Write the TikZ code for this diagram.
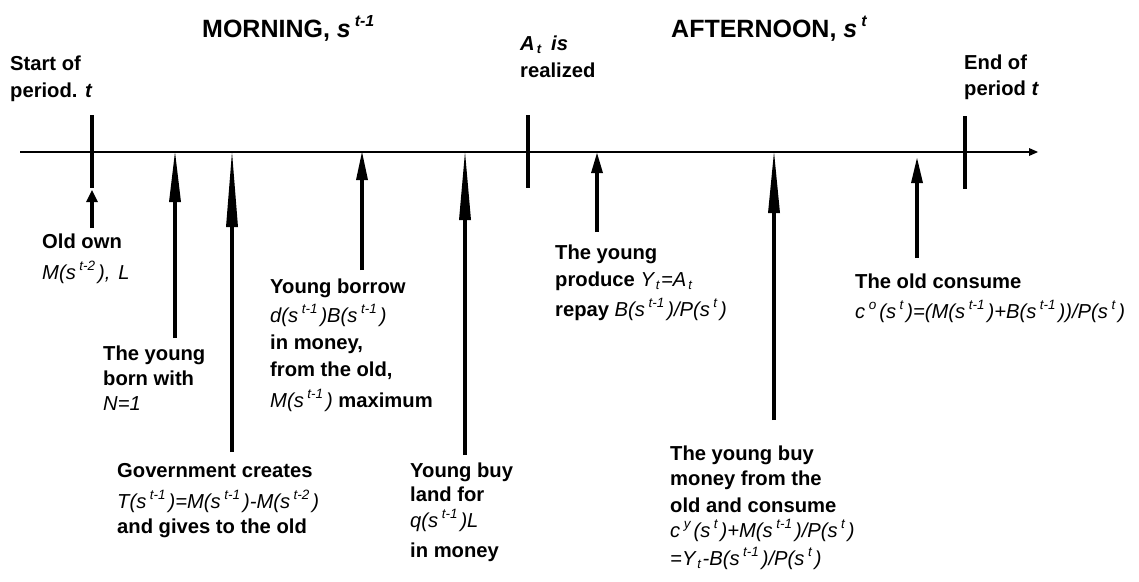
\documentclass[tikz,border=0pt]{standalone}
\usepackage{fontspec}
\setmainfont{Liberation Sans}
\usetikzlibrary{arrows.meta}
\newcommand\upx[1]{\hspace{3.5pt}\raisebox{8.5pt}{\fontsize{13.5}{13.5}\selectfont #1}\hspace{3pt}}
\newcommand\dnx[1]{\hspace{2pt}\raisebox{-3pt}{\fontsize{13}{13}\selectfont #1}\hspace{1.5pt}}
\newcommand\upT[1]{\hspace{4pt}\raisebox{10.5pt}{\fontsize{16}{16}\selectfont #1}}
\newcommand\mth[1]{{\mdseries\itshape #1}}
\tikzset{
  lbl/.style={anchor=base west, inner sep=0pt, font=\fontsize{20.2}{22}\selectfont\bfseries},
  ttl/.style={anchor=base west, inner sep=0pt, font=\fontsize{25}{28}\selectfont\bfseries},
  tickmark/.style={line width=4.5pt},
  timeline/.style={line width=2.2pt, -{Triangle[length=9pt,width=8pt,line width=0pt]}},
  uparrow/.style={line width=4.3pt, -{Triangle[length=#1,width=12pt,line width=0pt]}},
}
\begin{document}
\begin{tikzpicture}[x=1pt,y=-1pt]
\useasboundingbox (0,0) rectangle (1139,581);
% titles
\node[ttl] (mor) at (202,37) {MORNING, \textit{s\upT{t-1}}};
\node[ttl] (aft) at (671,37) {AFTERNOON, \textit{s\upT{t}}};
% top labels
\node[lbl] (st1) at (10,70) {Start of};
\node[lbl] (st2) at (10,97) {period. \textit{t}};
\node[lbl] (at1) at (520,50) {\textit{A\dnx{t}\hspace{3pt} is}};
\node[lbl] (at2) at (520,77) {realized};
\node[lbl] (en1) at (964,69) {End of};
\node[lbl] (en2) at (964,95) {period \textit{t}};
% timeline
\coordinate (ax0) at (20,152);
\coordinate (ax1) at (1038,152);
\draw[timeline] (ax0) -- (ax1);
% ticks
\coordinate (k1a) at (92,115); \coordinate (k1b) at (92,188);
\coordinate (k2a) at (528,115); \coordinate (k2b) at (528,188);
\coordinate (k3a) at (965,116); \coordinate (k3b) at (965,189);
\draw[tickmark] (k1a) -- (k1b);
\draw[tickmark] (k2a) -- (k2b);
\draw[tickmark] (k3a) -- (k3b);
% arrows
\coordinate (b1) at (92,228);  \coordinate (t1) at (92,190);
\coordinate (b2) at (175,338); \coordinate (t2) at (175,152);
\coordinate (b3) at (232,452); \coordinate (t3) at (232,152);
\coordinate (b4) at (362,270); \coordinate (t4) at (362,152);
\coordinate (b5) at (465,455); \coordinate (t5) at (465,152);
\coordinate (b6) at (597,232); \coordinate (t6) at (597,153);
\coordinate (b7) at (774,420); \coordinate (t7) at (774,152);
\coordinate (b8) at (917,258); \coordinate (t8) at (917,158);
\draw[uparrow=12pt] (b1) -- (t1);
\draw[uparrow=50pt] (b2) -- (t2);
\draw[uparrow=75pt] (b3) -- (t3);
\draw[uparrow=28pt] (b4) -- (t4);
\draw[uparrow=68pt] (b5) -- (t5);
\draw[uparrow=20pt] (b6) -- (t6);
\draw[uparrow=61pt] (b7) -- (t7);
\draw[uparrow=25pt] (b8) -- (t8);
% old own
\node[lbl] (oo1) at (42,248) {Old own};
\node[lbl] (oo2) at (42,279) {\mth{M(s\upx{t-2}),\hspace{8pt}L}};
% young born
\node[lbl] (yb1) at (103,360) {The young};
\node[lbl] (yb2) at (103,385) {born with};
\node[lbl] (yb3) at (103,410) {\mth{N=1}};
% government
\node[lbl] (gv1) at (117,477) {Government creates};
\node[lbl] (gv2) at (117,508) {\mth{T(s\upx{t-1})=M(s\upx{t-1})-M(s\upx{t-2})}};
\node[lbl] (gv3) at (117,533) {and gives to the old};
% young borrow
\node[lbl] (bo1) at (270,293) {Young borrow};
\node[lbl] (bo2) at (270,322) {\mth{d(s\upx{t-1})B(s\upx{t-1})}};
\node[lbl] (bo3) at (270,349) {in money,};
\node[lbl] (bo4) at (270,376) {from the old,};
\node[lbl] (bo5) at (270,407) {\mth{M(s\upx{t-1})} maximum};
% young buy land
\node[lbl] (la1) at (410,477) {Young buy};
\node[lbl] (la2) at (410,501) {land for};
\node[lbl] (la3) at (410,527) {\mth{q(s\upx{t-1})L}};
\node[lbl] (la4) at (410,557) {in money};
% young produce
\node[lbl] (pr1) at (555,259) {The young};
\node[lbl] (pr2) at (555,286) {produce \mth{Y\dnx{t}=A\dnx{t}}};
\node[lbl] (pr3) at (555,316) {repay \mth{B(s\upx{t-1})/P(s\upx{t})}};
% young buy money
\node[lbl] (ym1) at (670,460) {The young buy};
\node[lbl] (ym2) at (670,485) {money from the};
\node[lbl] (ym3) at (670,512) {old and consume};
\node[lbl] (ym4) at (670,537) {\mth{c\upx{y}(s\upx{t})+M(s\upx{t-1})/P(s\upx{t})}};
\node[lbl] (ym5) at (670,565) {\mth{=Y\dnx{t}-B(s\upx{t-1})/P(s\upx{t})}};
% old consume
\node[lbl] (oc1) at (855,288) {The old consume};
\node[lbl] (oc2) at (855,318) {\mth{c\upx{o}(s\upx{t})=(M(s\upx{t-1})+B(s\upx{t-1}))/P(s\upx{t})}};
\end{tikzpicture}
\end{document}
